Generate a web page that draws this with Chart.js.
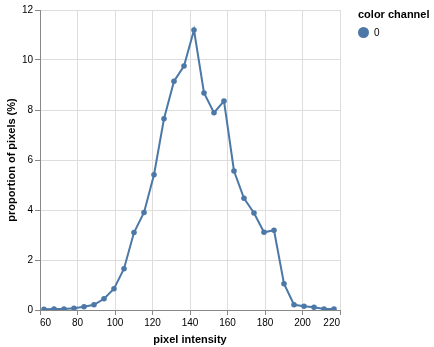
<!DOCTYPE html>
<html><head><meta charset="utf-8">
<script src="https://cdn.jsdelivr.net/npm/chart.js@4.4.0/dist/chart.umd.min.js"></script>
<style>
html,body{margin:0;padding:0;background:#fff;}
#wrap{position:relative;width:434px;height:347px;font-family:"Liberation Sans",Arial,Helvetica,sans-serif;}
#legend{position:absolute;left:358px;top:8px;}
#legend .t{font-weight:bold;font-size:11px;color:#000;}
#legend .row{display:flex;align-items:center;margin-top:7px;font-size:10px;color:#000;}
#legend .dot{width:11px;height:11px;border-radius:50%;background:#4c78a8;margin-right:5px;}
</style></head>
<body><div id="wrap"><canvas id="c" width="434" height="347"></canvas>
<div id="legend"><div class="t">color channel</div><div class="row"><span class="dot"></span><span>0</span></div></div></div>
<script>
const seriesName = "0";
const pixelIntensity = [62.13,67.47,72.8,78.13,83.47,88.8,94.13,99.47,104.8,110.13,115.47,120.8,126.13,131.47,136.8,142.13,147.47,152.8,158.13,163.47,168.8,174.13,179.47,184.8,190.13,195.47,200.8,206.13,211.47,216.8];
const proportion = [0.03,0.04,0.04,0.07,0.13,0.21,0.45,0.85,1.65,3.1,3.9,5.41,7.65,9.15,9.76,11.2,8.68,7.89,8.36,5.56,4.47,3.88,3.11,3.19,1.05,0.21,0.15,0.11,0.04,0.04];
const xTitle = "pixel intensity";
const yTitle = "proportion of pixels (%)";

const font = "'Liberation Sans', Arial, Helvetica, sans-serif";
new Chart(document.getElementById('c'), {
  type: 'line',
  data: { datasets: [{
    label: seriesName,
    data: pixelIntensity.map((x,i)=>({x:x,y:proportion[i]})),
    borderColor: '#4c78a8', backgroundColor: '#4c78a8',
    borderWidth: 2, pointRadius: 2.8, pointBorderWidth: 0, pointHoverRadius: 2.8, tension: 0
  }]},
  options: {
    responsive: false, animation: false,
    layout: { padding: { left: 0, top: 10, right: 94, bottom: 0 } },
    plugins: { legend: { display: false }, tooltip: { enabled: false } },
    scales: {
      x: {
        type: 'linear', min: 60, max: 220,
        afterFit: s => { s.height = 37; },
        ticks: { stepSize: 20, color: '#000', font: { family: font, size: 10 }, padding: 2, align: 'inner', maxRotation: 0 },
        grid: { color: '#ddd', tickColor: '#888', tickLength: 5 },
        border: { color: '#888' },
        title: { display: true, text: xTitle, color: '#000', font: { family: font, size: 11, weight: 'bold' }, padding: { top: 2, bottom: 0 } }
      },
      y: {
        min: 0, max: 12,
        afterFit: s => { s.width = 40; },
        ticks: { stepSize: 2, color: '#000', font: { family: font, size: 10 }, padding: 2 },
        grid: { color: '#ddd', tickColor: '#888', tickLength: 5 },
        border: { color: '#888' },
        title: { display: true, text: yTitle, color: '#000', font: { family: font, size: 11, weight: 'bold' }, padding: { top: 5, bottom: 2 } }
      }
    }
  }
});
</script></body></html>
